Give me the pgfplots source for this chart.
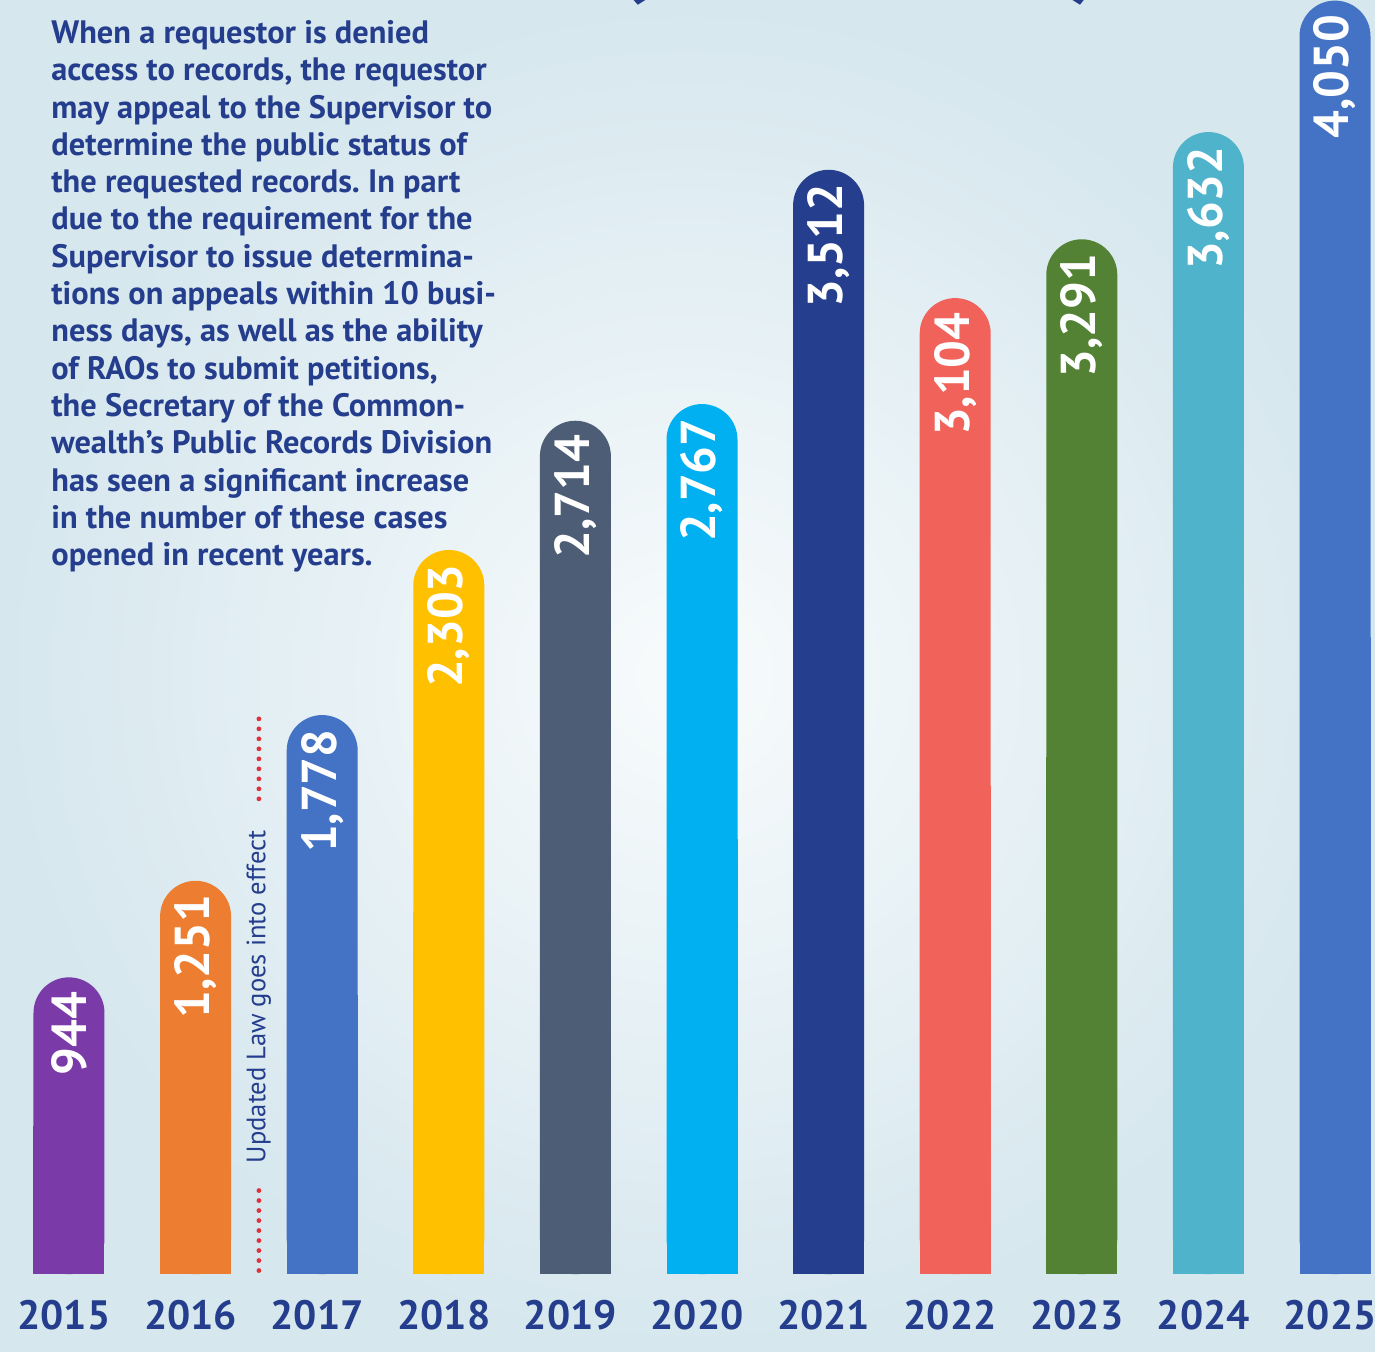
\documentclass[border=0pt]{standalone}
\usepackage{pgfplots}
\pgfplotsset{compat=1.18}
\usepackage{fontspec}
\setmainfont{PT Sans}
\frenchspacing
\definecolor{txtblue}{HTML}{243D8C}
\definecolor{dotred}{HTML}{E0323C}
\definecolor{c15}{HTML}{7A3BA8}
\definecolor{c16}{HTML}{ED7D31}
\definecolor{c17}{HTML}{4472C4}
\definecolor{c18}{HTML}{FFC000}
\definecolor{c19}{HTML}{4D5D75}
\definecolor{c20}{HTML}{00B0F0}
\definecolor{c21}{HTML}{253F8E}
\definecolor{c22}{HTML}{F0625A}
\definecolor{c23}{HTML}{548235}
\definecolor{c24}{HTML}{4EB3CB}
\definecolor{c25}{HTML}{4472C4}
\definecolor{bgin}{HTML}{F8FBFC}
\definecolor{bgout}{HTML}{D6E7EE}
\newcommand\yrbar[4]{%
  \addplot[fill=#4, draw=none, y filter/.expression={y/2}] coordinates {(#1,#2)};
  \addplot[fill=#4, draw=none, rounded corners=17.75pt, nodes near coords, point meta=explicit symbolic] coordinates {(#1,#2) [#3]};
}
\begin{document}
\begin{tikzpicture}
\begin{axis}[
  scale only axis, width=687.5pt, height=676pt,
  xmin=-0.545, xmax=10.316, ymin=-247.4, ymax=4052,
  axis line style={draw=none},
  major tick length=0pt,
  ytick=\empty,
  xtick={0,...,10},
  xticklabels={2015,2016,2017,2018,2019,2020,2021,2022,2023,2024,2025},
  xticklabel style={anchor=center, yshift=18.5pt, xshift=-2.5pt, font=\fontsize{20.5}{20.5}\selectfont\bfseries, text=txtblue},
  ybar, bar width=35.5pt, bar shift=0pt,
  axis background/.style={shade, shading=radial, inner color=bgin, outer color=bgout},
  every node near coord/.append style={rotate=90, anchor=east, text=white, font=\fontsize{24.5}{24.5}\selectfont\bfseries, inner xsep=7pt},
]
\yrbar{0}{944}{944}{c15}
\yrbar{1}{1251}{1,251}{c16}
\yrbar{2}{1778}{1,778}{c17}
\yrbar{3}{2303}{2,303}{c18}
\yrbar{4}{2714}{2,714}{c19}
\yrbar{5}{2767}{2,767}{c20}
\yrbar{6}{3512}{3,512}{c21}
\yrbar{7}{3104}{3,104}{c22}
\yrbar{8}{3291}{3,291}{c23}
\yrbar{9}{3632}{3,632}{c24}
\yrbar{10}{4050}{4,050}{c25}
\addplot[sharp plot, forget plot, draw=dotred, line width=2.4pt, dash pattern=on 0pt off 5pt, line cap=round] coordinates {(1.5,1766) (1.5,1503)};
\addplot[sharp plot, forget plot, draw=dotred, line width=2.4pt, dash pattern=on 0pt off 5pt, line cap=round] coordinates {(1.5,266) (1.5,0)};
\node[rotate=90, text=txtblue, font=\fontsize{13.3}{13.3}\selectfont] at (axis cs:1.5,882) {Updated Law goes into effect};
\node[anchor=north west, align=left, inner sep=0pt, text=txtblue, font=\fontsize{16.2}{18.65}\selectfont\bfseries] at (rel axis cs:0.0371,0.9852) {When a requestor is denied\\access to records, the requestor\\may appeal to the Supervisor to\\determine the public status of\\the requested records. In part\\due to the requirement for the\\Supervisor to issue determina-\\tions on appeals within 10 busi-\\ness days, as well as the ability\\of RAOs to submit petitions,\\the Secretary of the Common-\\wealth’s Public Records Division\\has seen a significant increase\\in the number of these cases\\opened in recent years.};
\node[overlay, anchor=base, text=txtblue, font=\fontsize{70}{70}\selectfont\bfseries] at (rel axis cs:0.458,1.019) {(};
\node[overlay, anchor=base, text=txtblue, font=\fontsize{70}{70}\selectfont\bfseries] at (rel axis cs:0.792,1.019) {)};
\end{axis}
\pgfresetboundingbox
\path (current axis.south west) rectangle (current axis.north east);
\end{tikzpicture}
\end{document}
